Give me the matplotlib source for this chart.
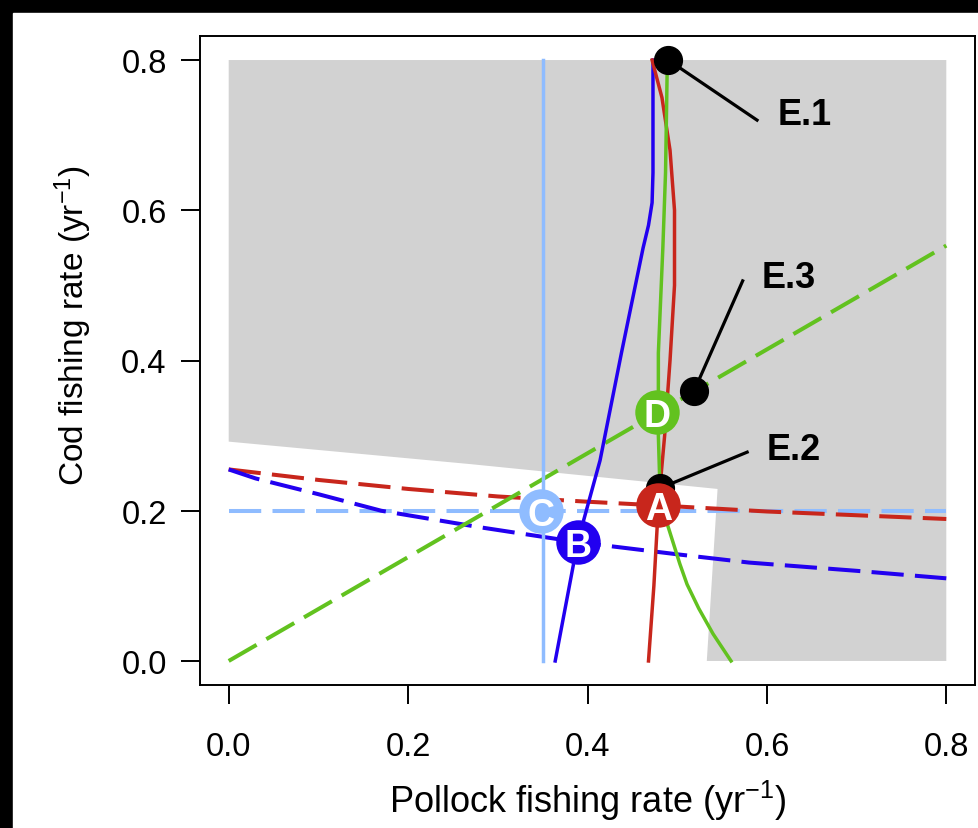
import matplotlib
matplotlib.use('Agg')
import matplotlib.pyplot as plt
from matplotlib.patches import Polygon, Rectangle

plt.rcParams['font.family'] = ['Liberation Sans', 'DejaVu Sans']
plt.rcParams['mathtext.fontset'] = 'custom'
plt.rcParams['mathtext.rm'] = 'Liberation Sans'
plt.rcParams['mathtext.it'] = 'Liberation Sans:italic'

# grey region (not viable)
shade_x = [0.0, 0.8, 0.8, 0.533, 0.545, 0.27, 0.0]
shade_y = [0.8, 0.8, 0.0, 0.0, 0.229, 0.262, 0.292]

# solid curves
blue_x = [0.364, 0.389, 0.414, 0.438, 0.462, 0.468, 0.472, 0.473, 0.473]
blue_y = [0.0, 0.158, 0.267, 0.411, 0.550, 0.580, 0.610, 0.650, 0.800]
red_x = [0.468, 0.474, 0.479, 0.486, 0.492, 0.497, 0.497, 0.492, 0.483, 0.472]
red_y = [0.0, 0.100, 0.207, 0.300, 0.400, 0.500, 0.600, 0.680, 0.750, 0.800]
green_x = [0.560, 0.540, 0.524, 0.511, 0.503, 0.489, 0.481, 0.479, 0.479, 0.484, 0.487, 0.489]
green_y = [0.0, 0.036, 0.070, 0.102, 0.129, 0.182, 0.220, 0.300, 0.410, 0.550, 0.650, 0.800]
lblue_x = [0.35, 0.35]
lblue_y = [0.0, 0.8]

# dashed curves
red_dash_x = [0.0, 0.1, 0.2, 0.3, 0.4, 0.48, 0.6, 0.7, 0.8]
red_dash_y = [0.255, 0.241, 0.229, 0.219, 0.212, 0.207, 0.199, 0.194, 0.189]
blue_dash_x = [0.0, 0.03, 0.1, 0.17, 0.28, 0.39, 0.5, 0.58, 0.7, 0.8]
blue_dash_y = [0.255, 0.243, 0.222, 0.200, 0.178, 0.158, 0.142, 0.131, 0.120, 0.110]
green_dash_x = [0.0, 0.8]
green_dash_y = [0.0, 0.553]
lblue_dash_x = [0.0, 0.8]
lblue_dash_y = [0.2, 0.2]

# labelled equilibria
pt_labels = ['A', 'B', 'C', 'D']
pt_x = [0.479, 0.389, 0.348, 0.478]
pt_y = [0.207, 0.158, 0.200, 0.331]

# black points with callouts
e_labels = ['E.1', 'E.2', 'E.3']
e_x = [0.490, 0.481, 0.519]
e_y = [0.800, 0.230, 0.360]
e_end_x = [0.589, 0.578, 0.573]
e_end_y = [0.720, 0.278, 0.506]
e_txt_x = [0.612, 0.600, 0.594]
e_txt_y = [0.727, 0.282, 0.510]

ticks = [0.0, 0.2, 0.4, 0.6, 0.8]
tick_labels = ['0.0', '0.2', '0.4', '0.6', '0.8']

C_LBLUE = '#8fbcff'
C_BLUE = '#2200f0'
C_RED = '#c8261c'
C_GREEN = '#62c21f'
pt_colors = [C_RED, C_BLUE, C_LBLUE, C_GREEN]

fig = plt.figure(figsize=(9.79, 8.29), dpi=100)
fig.patch.set_facecolor('black')
fig.add_artist(Rectangle((13 / 979, 0), 1, (829 - 14) / 829,
                         transform=fig.transFigure, color='white', zorder=-5))
ax = fig.add_axes([200 / 979, 143 / 829, 775 / 979, 649 / 829])
ax.set_facecolor('white')

ax.add_patch(Polygon(list(zip(shade_x, shade_y)), closed=True,
                     facecolor='#d2d2d2', edgecolor='none', zorder=1))

dash = (0, (8, 2.8))
ax.plot(lblue_dash_x, lblue_dash_y, color=C_LBLUE, lw=2.9, ls=dash, zorder=2)
ax.plot(red_dash_x, red_dash_y, color=C_RED, lw=2.9, ls=dash, zorder=2)
ax.plot(blue_dash_x, blue_dash_y, color=C_BLUE, lw=2.9, ls=dash, zorder=2)
ax.plot(green_dash_x, green_dash_y, color=C_GREEN, lw=2.9, ls=dash, zorder=2)

ax.plot(lblue_x, lblue_y, color=C_LBLUE, lw=2.5, zorder=3)
ax.plot(blue_x, blue_y, color=C_BLUE, lw=2.5, zorder=3)
ax.plot(red_x, red_y, color=C_RED, lw=2.5, zorder=3)
ax.plot(green_x, green_y, color=C_GREEN, lw=2.5, zorder=3)

for x0, y0, x1, y1, tx, ty, lab in zip(e_x, e_y, e_end_x, e_end_y, e_txt_x, e_txt_y, e_labels):
    ax.plot([x0, x1], [y0, y1], color='black', lw=2.3, zorder=4)
    ax.plot(x0, y0, 'o', color='black', ms=20, zorder=5)
    ax.text(tx, ty, lab, fontsize=26, fontweight='bold', ha='left', va='center', zorder=6)

for x0, y0, lab, c in zip(pt_x, pt_y, pt_labels, pt_colors):
    ax.plot(x0, y0, 'o', color=c, ms=32, mec='none', zorder=7)
    ax.text(x0, y0, lab, color='white', fontsize=27, fontweight='bold',
            ha='center', va='center_baseline', zorder=8)

ax.set_xlim(-0.032, 0.832)
ax.set_ylim(-0.032, 0.832)
ax.set_xticks(ticks)
ax.set_xticklabels(tick_labels)
ax.set_yticks(ticks)
ax.set_yticklabels(tick_labels)
ax.tick_params(axis='both', direction='out', length=14, width=1.4, labelsize=23.5)
ax.tick_params(axis='x', pad=19)
ax.tick_params(axis='y', pad=10)
for sp in ax.spines.values():
    sp.set_linewidth(1.4)

ax.set_xlabel('Pollock fishing rate (yr$^{-1}$)', fontsize=26)
ax.set_ylabel('Cod fishing rate (yr$^{-1}$)', fontsize=24)
ax.xaxis.set_label_coords(0.5, -0.143)
ax.yaxis.set_label_coords(-0.137, 0.556)

plt.savefig('out.png', dpi=100, facecolor=fig.get_facecolor())
